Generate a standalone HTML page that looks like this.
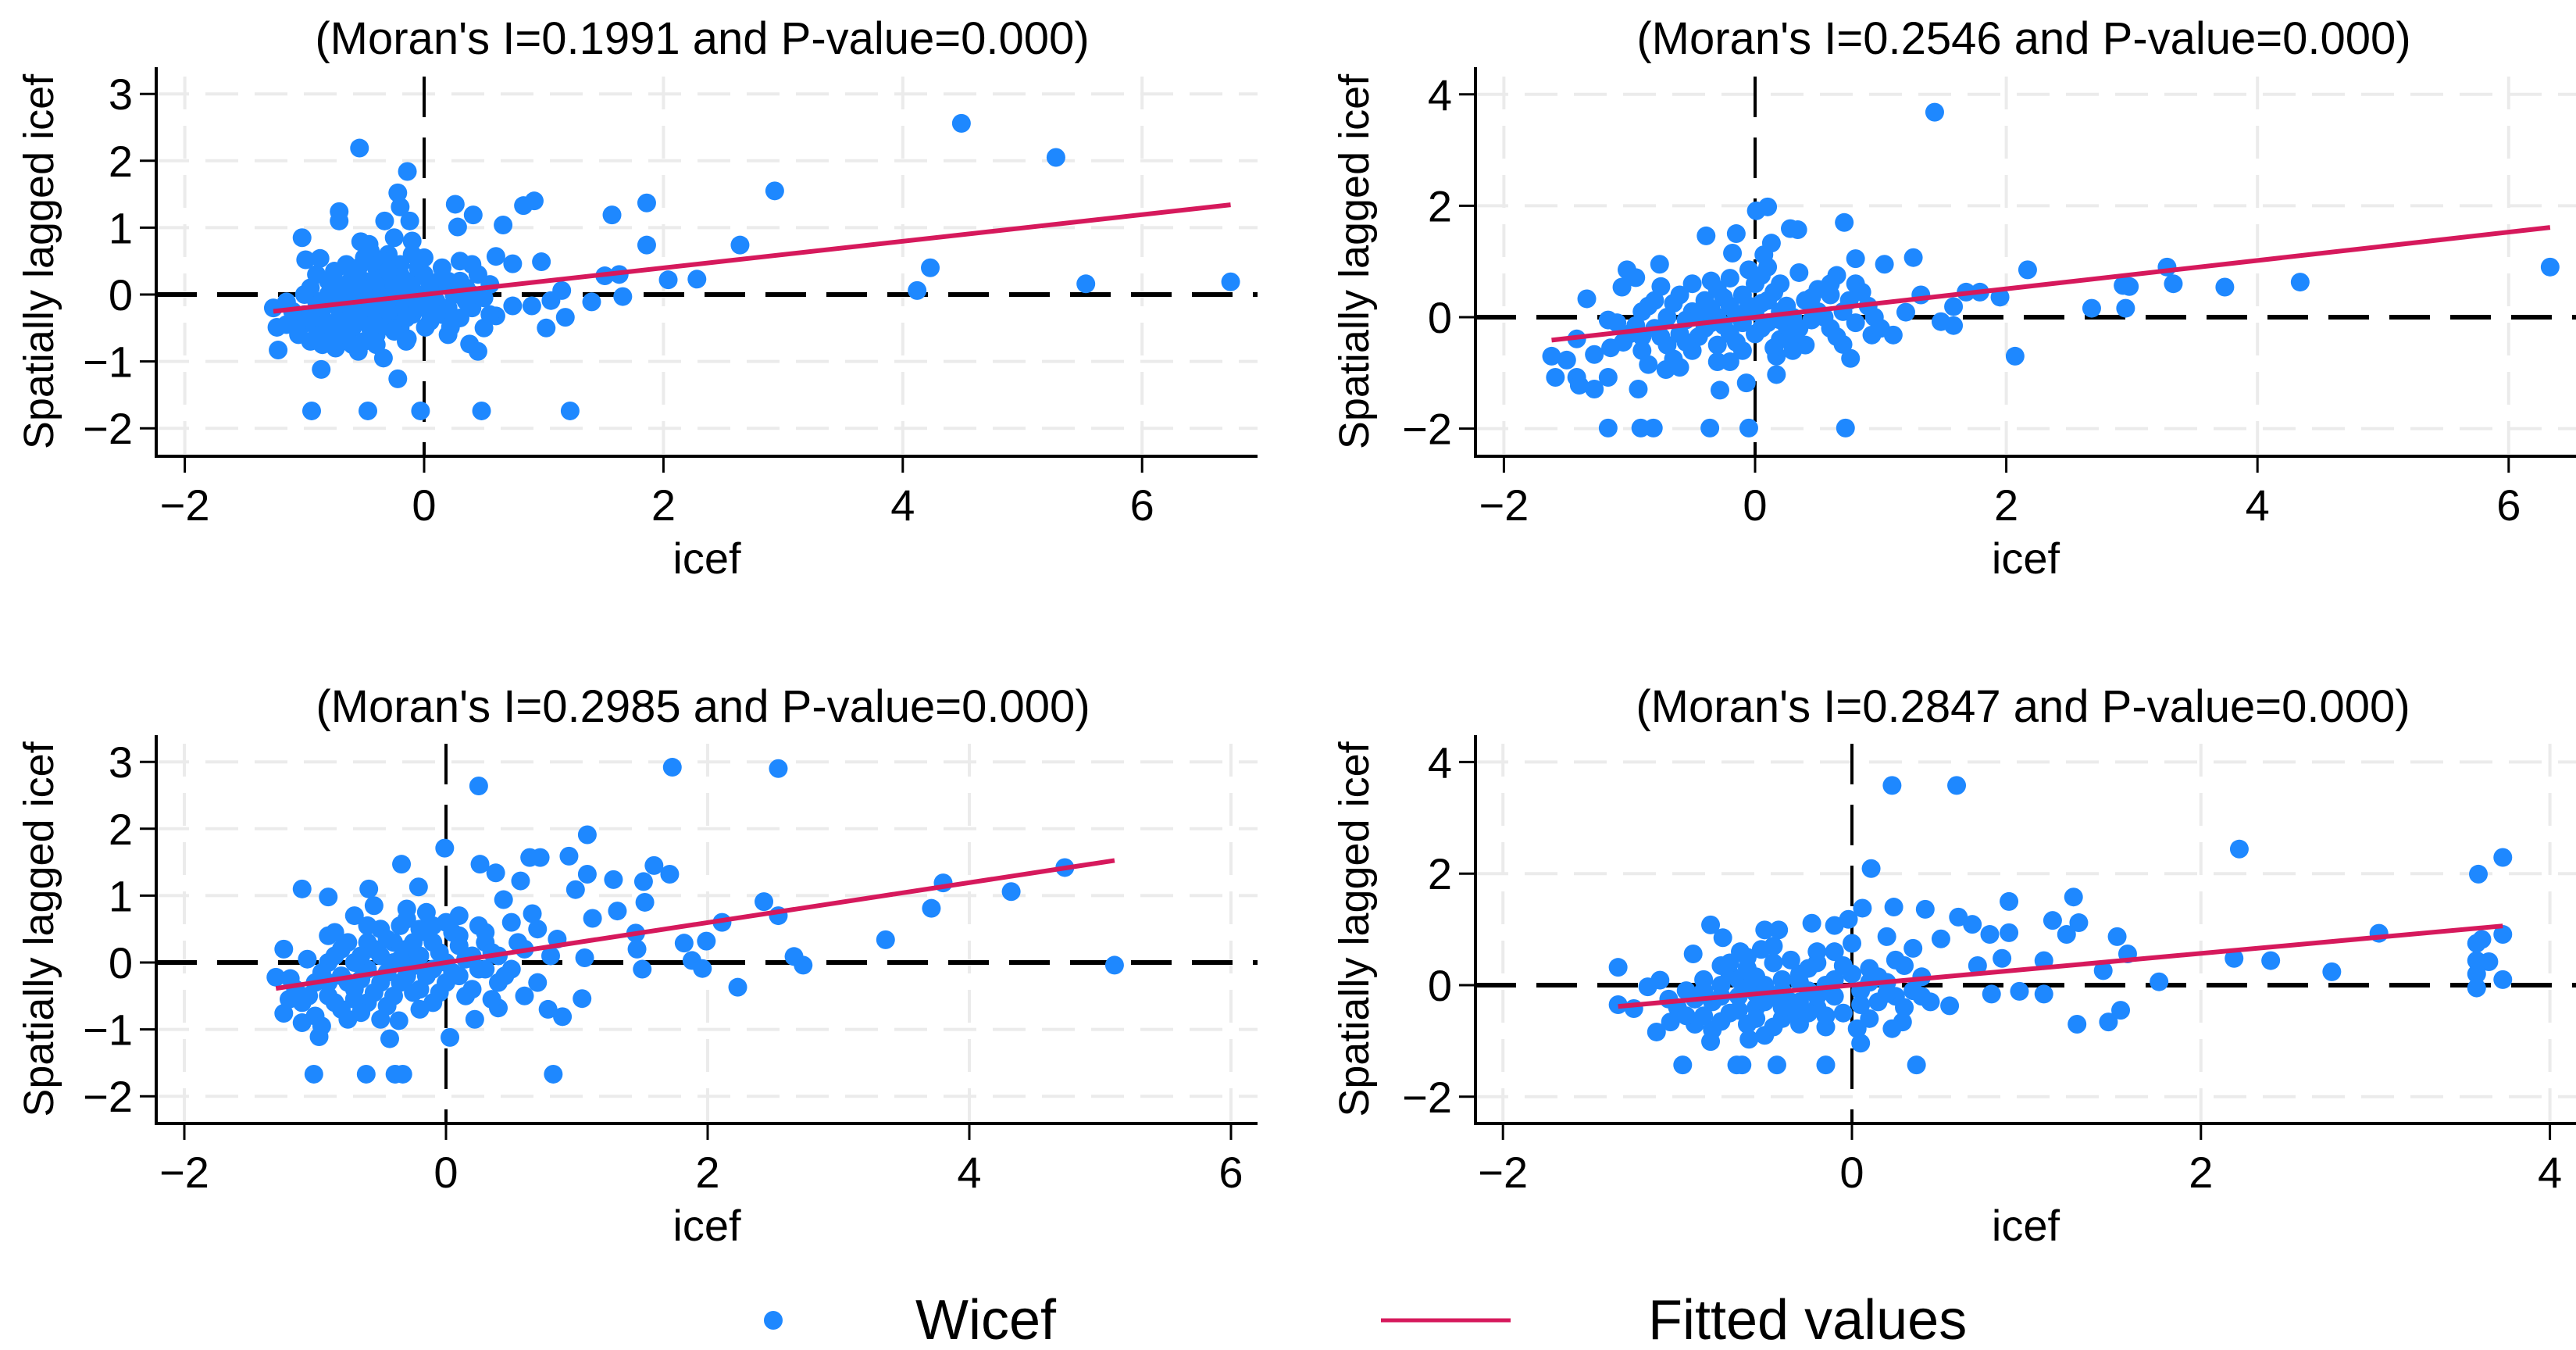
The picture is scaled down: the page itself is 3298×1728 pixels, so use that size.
<!DOCTYPE html>
<html><head><meta charset="utf-8">
<style>
html,body{margin:0;padding:0;background:#fff;}
svg{display:block;font-family:"Liberation Sans",Arial,sans-serif;}
</style></head>
<body>
<svg id="chart" width="3298" height="1728" viewBox="0 0 3298 1728" xmlns="http://www.w3.org/2000/svg">
<rect x="0" y="0" width="3298" height="1728" fill="#fff"/>
<g id="panels"></g>
<g>
  <circle cx="990" cy="1690" r="12" fill="#1e88ff"/>
  <text x="1172" y="1714" font-size="72" fill="#000">Wicef</text>
  <line x1="1768" y1="1690" x2="1934" y2="1690" stroke="#d6195c" stroke-width="5"/>
  <text x="2110" y="1714" font-size="72" fill="#000">Fitted values</text>
</g>
</svg>
<script>
// ---------- data ----------
const moranI = [0.1991, 0.2546, 0.2985, 0.2847];
const pValues = ["0.000", "0.000", "0.000", "0.000"];
const xTicksTL = [-2, 0, 2, 4, 6];
const yTicksTL = [-2, -1, 0, 1, 2, 3];
const xTicksTR = [-2, 0, 2, 4, 6];
const yTicksTR = [-2, 0, 2, 4];
const xTicksBL = [-2, 0, 2, 4, 6];
const yTicksBL = [-2, -1, 0, 1, 2, 3];
const xTicksBR = [-2, 0, 2, 4];
const yTicksBR = [-2, 0, 2, 4];

const pointsTL = [
[4.49,2.56],[5.28,2.05],[2.93,1.55],[1.86,1.37],[1.57,1.19],[1.86,0.74],[2.64,0.74],[4.23,0.40],[4.12,0.06],[5.53,0.16],[6.74,0.19],
[2.04,0.22],[2.28,0.23],[1.51,0.28],[1.63,0.30],[1.66,-0.03],[1.40,-0.11],[1.18,-0.34],[1.02,-0.50],[0.98,0.49],[0.92,1.40],[0.83,1.33],
[0.66,1.04],[0.41,1.19],[0.26,1.35],[0.28,1.01],[-0.54,2.19],[-0.14,1.84],[-0.22,1.52],[-0.20,1.31],[-0.71,1.24],[-0.71,1.10],[-0.33,1.10],
[-0.12,1.10],[-1.02,0.85],[-0.53,0.79],[-0.46,0.75],[-0.99,0.52],[-0.87,0.54],[0.74,0.46],[0.60,0.57],
[-0.94,-1.74],[-0.47,-1.74],[-0.03,-1.74],[0.48,-1.74],[1.22,-1.74],[-0.86,-1.12],[-0.22,-1.26],[-0.34,-0.95],[0.38,-0.74],[-1.22,-0.83],
[-1.26,-0.20],[-1.23,-0.49],[-1.04,-0.49],[-1.15,-0.11],[-0.74,-0.80],[-0.14,-0.66],[0.01,-0.49],[0.22,-0.49],[0.60,-0.32],[0.74,-0.17],
[0.90,-0.17],[1.06,-0.09],[1.15,0.06],
[-1.0,-0.3],[-0.9,-0.1],[-0.9,-0.5],[-0.8,0.0],[-0.8,-0.6],[-0.8,0.2],[-0.7,-0.3],[-0.7,-0.7],[-0.7,0.1],[-0.6,-0.2],[-0.6,-0.5],[-0.6,0.3],
[-0.6,0.0],[-0.5,-0.4],[-0.5,-0.1],[-0.5,0.2],[-0.5,-0.7],[-0.4,-0.3],[-0.4,0.0],[-0.4,0.4],[-0.4,-0.6],[-0.35,-0.15],[-0.3,0.1],[-0.3,-0.4],
[-0.3,0.6],[-0.25,-0.2],[-0.2,0.3],[-0.2,-0.5],[-0.2,0.0],[-0.15,-0.1],[-0.1,0.2],[-0.1,-0.3],[-0.1,0.6],[-0.05,0.0],[0.0,-0.2],[0.0,0.3],
[0.05,-0.4],[0.1,0.1],[0.1,-0.1],[0.15,0.4],[0.2,-0.2],[0.2,0.2],[0.25,0.0],[0.3,-0.35],[0.3,0.5],[0.35,0.1],[0.4,-0.2],[0.45,0.3],[0.5,-0.5],
[0.55,0.15],[-0.95,0.1],[-1.05,-0.6],[-0.85,-0.35],[-0.65,0.45],[-0.45,0.65],[-0.25,0.85],[-0.55,-0.85],[-0.15,-0.7],[0.45,-0.85],
[-0.75,-0.15],[-0.3,-0.05],[-0.45,0.05],[-0.2,-0.25],[0.05,0.15],[-0.1,-0.05],[-0.65,-0.4],[-0.35,0.25],[0.15,-0.3],[-0.85,-0.75],[-0.55,0.15],
[-1.1,-0.25],[-1.0,0.0],[-0.95,-0.7],[-0.9,0.3],[-0.85,-0.2],[-0.75,-0.45],[-0.75,0.35],[-0.65,-0.6],[-0.65,0.15],[-0.55,-0.3],[-0.55,0.4],
[-0.45,-0.5],[-0.45,-0.2],[-0.4,0.2],[-0.35,-0.45],[-0.35,0.5],[-0.3,-0.25],[-0.25,0.15],[-0.25,-0.55],[-0.2,0.45],[-0.15,-0.35],[-0.15,0.2],
[-0.05,-0.2],[-0.05,0.4],[0.05,0.05],[0.1,-0.3],[0.15,0.25],[0.25,-0.35],[0.3,0.2],[0.35,-0.1],[0.4,0.45],[0.5,-0.05],[-0.6,-0.75],[-0.8,-0.45],
[-0.5,0.55],[-0.3,0.35],[-0.1,0.8],[0.0,0.55],[0.2,-0.6],[0.4,0.0],[-0.7,-0.1],[-1.15,-0.45],[-0.95,-0.35],[-0.4,-0.75],[0.55,-0.3]
];

const pointsTR = [
[1.43,3.68],[6.33,0.90],[4.34,0.63],[3.74,0.54],[3.33,0.60],[3.28,0.90],[2.93,0.57],[2.98,0.55],[2.95,0.16],[2.68,0.16],[2.17,0.85],
[2.07,-0.70],[1.95,0.36],[1.79,0.45],[1.68,0.45],[1.58,0.19],[1.48,-0.08],[1.58,-0.15],[1.32,0.40],[1.26,1.07],[1.03,0.95],[0.80,1.05],
[0.71,1.70],[0.34,1.57],[0.28,1.59],[0.10,1.98],[0.01,1.91],[0.13,1.33],[0.07,1.12],[-0.15,1.50],[-0.39,1.46],[-0.18,1.15],[-0.76,0.95],
[-1.02,0.85],[-0.95,0.71],[-1.06,0.54],[-1.34,0.33],[-1.17,-0.05],[-1.62,-0.70],[-1.59,-1.08],[-1.42,-1.08],[-1.40,-1.22],[-1.28,-1.29],
[-1.17,-1.08],[-0.93,-1.29],[-0.71,-0.94],[-1.50,-0.77],[-1.28,-0.67],[-1.42,-0.39],[-0.28,-1.31],[-0.07,-1.18],[0.17,-1.03],[0.17,-0.70],
[-0.30,-0.80],[0.76,-0.74],[0.70,-0.49],[1.10,-0.32],[1.20,0.09],[0.93,-0.32],
[-1.17,-1.99],[-0.91,-1.99],[-0.81,-1.99],[-0.36,-1.99],[-0.05,-1.99],[0.72,-1.99],
[-1.0,-0.3],[-0.9,0.1],[-0.9,-0.6],[-0.8,-0.2],[-0.8,0.3],[-0.7,-0.5],[-0.7,0.0],[-0.6,0.4],[-0.6,-0.3],[-0.5,0.1],[-0.5,-0.6],[-0.5,0.6],
[-0.4,-0.2],[-0.4,0.3],[-0.3,0.0],[-0.3,-0.5],[-0.3,0.5],[-0.2,-0.3],[-0.2,0.2],[-0.2,0.7],[-0.1,-0.1],[-0.1,0.4],[-0.1,-0.6],[0.0,0.1],
[0.0,-0.3],[0.0,0.6],[0.1,-0.1],[0.1,0.3],[0.1,0.9],[0.2,-0.4],[0.2,0.1],[0.2,0.6],[0.3,0.0],[0.3,-0.3],[0.4,0.3],[0.4,-0.5],[0.5,0.1],
[0.5,0.5],[0.6,-0.2],[0.6,0.4],[0.7,0.1],[0.8,-0.1],[0.8,0.6],[0.9,0.2],[1.0,-0.2],[-1.1,-0.1],[-1.05,-0.45],[-0.85,-0.85],[-0.65,-0.75],
[-0.45,-0.35],[-0.25,-0.15],[-0.15,0.05],[0.05,0.25],[0.25,-0.15],[0.45,-0.05],[0.65,0.75],[-0.55,-0.05],[-0.35,0.15],[0.15,-0.55],[-0.05,0.85],
[-0.95,-0.15],[-0.85,0.2],[-0.75,-0.35],[-0.65,0.25],[-0.55,-0.45],[-0.45,0.0],[-0.35,-0.1],[-0.25,0.35],[-0.15,-0.45],[-0.05,0.2],
[0.05,-0.2],[0.15,0.45],[0.25,0.2],[0.35,-0.2],[0.45,0.35],[0.55,0.0],[0.65,-0.35],[0.75,0.3],[0.85,0.45],[0.95,0.0],[-1.15,-0.55],
[-0.75,0.55],[-0.35,0.65],[0.05,0.75],[0.35,0.8],[-0.6,-0.9],[-0.2,-0.8],[0.3,-0.6],[0.6,0.6],[-0.9,-0.35],[-0.1,0.05],[0.2,-0.05]
];

const pointsBL = [
[1.73,2.92],[2.54,2.90],[0.25,2.64],[1.08,1.91],[-0.01,1.71],[0.94,1.59],[0.64,1.57],[0.72,1.57],[0.26,1.47],[-0.34,1.47],[0.38,1.34],
[1.59,1.45],[1.71,1.32],[1.51,1.21],[1.28,1.24],[1.08,1.32],[0.57,1.22],[0.99,1.09],[1.52,0.90],[1.31,0.77],[1.12,0.66],[0.66,0.73],
[0.44,0.94],[-0.21,1.13],[-0.59,1.10],[-1.10,1.10],[-0.90,0.98],[4.73,1.42],[3.80,1.19],[4.32,1.06],[3.71,0.81],[2.43,0.91],[2.54,0.70],
[2.11,0.60],[3.36,0.34],[1.99,0.32],[1.82,0.29],[1.45,0.44],[1.46,0.20],[1.06,0.07],[1.88,0.03],[1.96,-0.09],[2.66,0.09],[2.73,-0.04],
[1.50,-0.10],[2.23,-0.37],[5.11,-0.04],[1.04,-0.54],[0.78,-0.70],[0.89,-0.81],[0.40,-0.68],[0.22,-0.85],[0.03,-1.12],[-0.43,-1.14],
[-0.36,-0.87],[-0.97,-1.11],[-1.24,-0.76],[-1.30,-0.22],[-1.24,0.20],[-1.06,0.05],[-1.19,-0.24],
[-1.01,-1.67],[-0.61,-1.67],[-0.39,-1.67],[-0.33,-1.67],[0.82,-1.67],
[-1.1,-0.6],[-1.0,-0.3],[-1.0,-0.8],[-0.9,0.0],[-0.9,-0.5],[-0.9,0.4],[-0.8,-0.2],[-0.8,-0.7],[-0.8,0.2],[-0.7,-0.4],[-0.7,0.0],[-0.7,0.7],
[-0.6,-0.6],[-0.6,-0.1],[-0.6,0.3],[-0.5,-0.3],[-0.5,0.1],[-0.5,0.5],[-0.4,-0.5],[-0.4,0.0],[-0.4,0.3],[-0.3,-0.2],[-0.3,0.2],[-0.3,0.8],
[-0.2,-0.4],[-0.2,0.1],[-0.2,0.5],[-0.1,-0.1],[-0.1,0.3],[-0.1,-0.6],[0.0,0.0],[0.0,0.6],[0.0,-0.3],[0.1,0.4],[0.1,-0.2],[0.2,0.1],
[0.2,-0.4],[0.3,0.3],[0.3,-0.1],[0.4,0.1],[0.4,-0.3],[0.5,0.6],[0.5,-0.1],[0.6,0.2],[0.7,-0.3],[0.8,0.1],[0.85,0.35],[-1.15,-0.4],
[-0.95,-0.95],[-0.75,-0.85],[-0.55,0.85],[-0.35,0.55],[-0.15,0.75],[0.05,0.45],[0.25,0.55],[-0.65,-0.25],[-0.45,-0.15],[-0.25,-0.05],
[0.15,0.05],[0.35,-0.55],[-0.85,0.45],[0.6,-0.5],[0.7,0.5],
[-1.05,-0.5],[-0.95,-0.15],[-0.85,-0.6],[-0.85,0.1],[-0.75,-0.3],[-0.75,0.3],[-0.65,-0.75],[-0.65,0.1],[-0.55,-0.45],[-0.55,0.2],
[-0.45,-0.65],[-0.45,0.35],[-0.35,-0.3],[-0.35,0.05],[-0.25,-0.45],[-0.25,0.3],[-0.15,-0.2],[-0.15,0.45],[-0.05,-0.45],[-0.05,0.15],
[0.05,-0.15],[0.1,0.25],[0.15,-0.5],[0.25,-0.1],[0.3,0.45],[0.45,-0.2],[0.55,0.3],[-1.2,-0.55],[-1.1,-0.9],[-0.9,-0.3],[-0.7,-0.55],
[-0.5,-0.85],[-0.3,0.65],[-0.1,0.55],[0.1,0.7],[0.35,0.15],[-0.6,0.55],[-0.2,-0.7]
];

const pointsBR = [
[0.23,3.58],[0.60,3.58],[2.22,2.44],[3.73,2.29],[3.59,1.99],[0.11,2.09],[1.27,1.58],[0.90,1.50],[0.42,1.36],[0.24,1.40],[0.06,1.38],
[1.15,1.16],[1.30,1.12],[0.61,1.22],[0.69,1.09],[0.79,0.91],[0.90,0.94],[1.23,0.91],[1.52,0.87],[1.58,0.56],[3.02,0.93],[3.61,0.82],
[3.73,0.91],[3.58,0.75],[2.19,0.48],[2.40,0.44],[2.75,0.24],[3.58,0.44],[3.65,0.42],[3.58,0.20],[3.73,0.10],[3.58,-0.05],[1.76,0.06],
[1.44,0.26],[1.10,0.44],[1.10,-0.16],[0.96,-0.11],[0.80,-0.16],[0.86,0.48],[0.72,0.35],[1.54,-0.45],[1.47,-0.66],[1.29,-0.70],[0.56,-0.37],
[0.29,-0.66],[0.23,-0.78],[0.05,-1.04],[0.03,-0.78],[0.37,-1.43],[-0.15,-1.43],[-0.43,-1.43],[-0.63,-1.43],[-0.66,-1.43],[-0.97,-1.43],
[-0.81,-1.01],[-0.59,-0.97],[-1.12,-0.84],[-1.04,-0.66],[-1.17,-0.03],[-1.10,0.09],[-1.34,0.32],[-1.34,-0.35],[-1.25,-0.42],[-0.81,1.08],
[-0.74,0.85],[-0.50,0.99],[-0.42,0.99],[-0.23,1.11],[-0.10,1.07],[-0.02,1.18],[-0.91,0.56],[-0.75,0.35],[-0.64,0.60],[-0.52,0.64],
[0.20,0.87],[0.35,0.66],[0.51,0.83],
[-1.0,-0.4],[-0.95,-0.1],[-0.9,-0.7],[-0.85,0.1],[-0.8,-0.3],[-0.8,-0.8],[-0.75,0.0],[-0.7,-0.5],[-0.7,0.2],[-0.65,-0.2],[-0.6,-0.7],
[-0.6,0.3],[-0.55,-0.4],[-0.5,0.0],[-0.5,-0.9],[-0.45,-0.2],[-0.45,0.4],[-0.4,-0.6],[-0.4,0.1],[-0.35,-0.3],[-0.3,0.2],[-0.3,-0.7],
[-0.25,-0.1],[-0.2,0.4],[-0.2,-0.4],[-0.15,0.0],[-0.1,-0.2],[-0.1,0.6],[-0.05,-0.5],[0.0,0.2],[0.05,-0.1],[0.1,0.3],[0.15,-0.3],
[0.2,0.05],[0.25,-0.2],[0.3,0.35],[0.35,-0.1],[0.4,0.15],[0.45,-0.3],[-0.85,-0.55],[-0.65,0.1],[-0.35,0.45],[-0.25,-0.5],[0.1,-0.6],
[-0.55,-0.15],[-0.15,-0.75],[0.0,0.75],[-0.45,0.7],
[-0.95,-0.55],[-0.9,-0.25],[-0.85,-0.1],[-0.75,-0.65],[-0.75,-0.2],[-0.7,0.4],[-0.65,-0.45],[-0.6,-0.05],[-0.55,0.15],[-0.55,-0.6],
[-0.5,-0.3],[-0.45,-0.75],[-0.4,-0.1],[-0.35,-0.5],[-0.3,0.05],[-0.25,0.3],[-0.2,-0.2],[-0.15,-0.55],[-0.1,0.1],[-0.05,0.35],[0.05,-0.35],
[0.1,0.05],[0.15,0.15],[0.25,0.45],[0.3,-0.4],[0.4,-0.2],[-1.05,-0.25],[-0.3,-0.3],[-0.6,0.5],[-0.2,0.6],[0.2,-0.15],[-0.4,-0.4]
];

// ---------- layout ----------
const panels = [
  {name:"top-left", pts:pointsTL, I:moranI[0], p:pValues[0], xt:xTicksTL, yt:yTicksTL,
   left:200, right:1610, axisY:584, top:86, zeroTop:98, x0:543, xu:153.2, y0:377, yu:85.6, titleX:899, titleY:69, ytitleX:50},
  {name:"top-right", pts:pointsTR, I:moranI[1], p:pValues[1], xt:xTicksTR, yt:yTicksTR,
   left:1889, right:3298, axisY:584, top:86, zeroTop:98, x0:2247, xu:160.8, y0:406, yu:71.3, titleX:2591, titleY:69, ytitleX:1734},
  {name:"bottom-left", pts:pointsBL, I:moranI[2], p:pValues[2], xt:xTicksBL, yt:yTicksBL,
   left:200, right:1610, axisY:1438, top:941, zeroTop:952, x0:571, xu:167.5, y0:1232, yu:85.6, titleX:900, titleY:924, ytitleX:50},
  {name:"bottom-right", pts:pointsBR, I:moranI[3], p:pValues[3], xt:xTicksBR, yt:yTicksBR,
   left:1889, right:3298, axisY:1438, top:941, zeroTop:952, x0:2371, xu:223.4, y0:1261, yu:71.4, titleX:2590, titleY:924, ytitleX:1734}
];

const NS = "http://www.w3.org/2000/svg";
const root = document.getElementById("panels");
function mk(tag, attrs, parent){
  const e = document.createElementNS(NS, tag);
  for (const k in attrs) e.setAttribute(k, attrs[k]);
  parent.appendChild(e);
  return e;
}
function fmt(v){ return v < 0 ? "\u2212" + Math.abs(v) : String(v); }

panels.forEach(P => {
  const sx = v => P.x0 + v * P.xu;
  const sy = v => P.y0 - v * P.yu;
  const g = mk("g", {}, root);
  
  

  P.yt.forEach(t => {
    if (t === 0) return;
    const l = mk("line", {x1:P.left, x2:P.right, y1:sy(t), y2:sy(t), stroke:"#ebebeb", "stroke-width":4, "stroke-dasharray":"42 21"}, g);
    
    
  });
  P.xt.forEach(t => {
    if (t === 0) return;
    const l = mk("line", {x1:sx(t), x2:sx(t), y1:P.zeroTop, y2:P.axisY, stroke:"#ebebeb", "stroke-width":4, "stroke-dasharray":"42 21"}, g);
    
    
  });

  const hz = mk("line", {x1:P.left, x2:P.right, y1:sy(0), y2:sy(0), stroke:"#000", "stroke-width":6, "stroke-dasharray":"52 26"}, g);
  
  
  const vz = mk("line", {x1:sx(0), x2:sx(0), y1:P.zeroTop, y2:P.axisY, stroke:"#000", "stroke-width":4, "stroke-dasharray":"52 26"}, g);
  
  

  let minX = Infinity, maxX = -Infinity;
  P.pts.forEach(pt => {
    minX = Math.min(minX, pt[0]); maxX = Math.max(maxX, pt[0]);
    const c = mk("circle", {cx:sx(pt[0]), cy:sy(pt[1]), r:12, fill:"#1e88ff"}, g);
    
    
  });

  const fl = mk("line", {x1:sx(minX), y1:sy(P.I*minX), x2:sx(maxX), y2:sy(P.I*maxX), stroke:"#d6195c", "stroke-width":6}, g);
  
  

  const ya = mk("line", {x1:P.left, x2:P.left, y1:P.top, y2:P.axisY+2, stroke:"#000", "stroke-width":4}, g);
  
  
  const xa = mk("line", {x1:P.left-2, x2:P.right, y1:P.axisY, y2:P.axisY, stroke:"#000", "stroke-width":4}, g);
  
  

  P.yt.forEach(t => {
    const tk = mk("line", {x1:P.left-21, x2:P.left, y1:sy(t), y2:sy(t), stroke:"#000", "stroke-width":3}, g);
    
    
    const tx = mk("text", {x:P.left-30, y:sy(t)+20, "font-size":56, "text-anchor":"end", fill:"#000"}, g);
    tx.textContent = fmt(t);
    
    
  });
  P.xt.forEach(t => {
    const tk = mk("line", {x1:sx(t), x2:sx(t), y1:P.axisY, y2:P.axisY+21, stroke:"#000", "stroke-width":3}, g);
    
    
    const tx = mk("text", {x:sx(t), y:P.axisY+82, "font-size":56, "text-anchor":"middle", fill:"#000"}, g);
    tx.textContent = fmt(t);
    
    
  });

  const xt = mk("text", {x:(P.left+P.right)/2, y:P.axisY+150, "font-size":56, "text-anchor":"middle", fill:"#000"}, g);
  xt.textContent = "icef";
  
  
  const cy = (P.top + P.axisY)/2;
  const yt = mk("text", {x:P.ytitleX+18, y:cy, "font-size":54, "text-anchor":"middle", fill:"#000", transform:`rotate(-90 ${P.ytitleX+18} ${cy})`}, g);
  yt.textContent = "Spatially lagged icef";
  
  
  const tt = mk("text", {x:P.titleX, y:P.titleY, "font-size":58, "text-anchor":"middle", fill:"#000"}, g);
  tt.textContent = `(Moran's I=${P.I.toFixed(4)} and P-value=${P.p})`;
  
  
});
</script>
</body></html>
